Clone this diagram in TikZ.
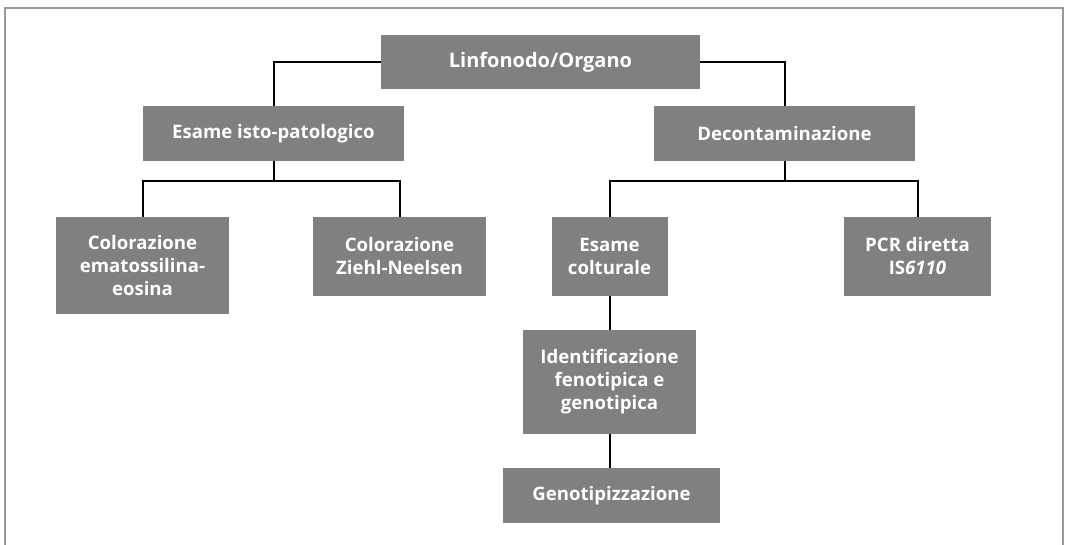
\documentclass[tikz,border=0pt]{standalone}
\usepackage{fontspec}
\setmainfont{Open Sans}[Ligatures=NoCommon]
\definecolor{boxgray}{HTML}{808083}
\definecolor{framegray}{HTML}{9A9A9A}
\begin{document}
\begin{tikzpicture}[x=1pt,y=-1pt,
  box/.style={fill=boxgray,text=white,font=\bfseries\fontsize{18.6}{23}\selectfont,
    align=center,inner sep=0pt,minimum width=#1},
  link/.style={line width=2pt,black}]
\useasboundingbox (0,0) rectangle (1066,545);
% open frame (no bottom edge)
\draw[framegray,line width=2pt] (5,545) -- (5,8) -- (1063,8) -- (1063,545);

\node[box=319pt,minimum height=54pt,font=\bfseries\fontsize{20}{24}\selectfont] (top) at (540.5,62) {Linfonodo/Organo};
\node[box=261pt,minimum height=55pt] (iso) at (273.5,133.5) {Esame isto-patologico};
\node[box=261pt,minimum height=55pt] (deco) at (784.5,133.5) {Decontaminazione};
\node[box=173pt,minimum height=97pt] (emato) at (142.5,265.5) {Colorazione\\ematossilina-\\eosina};
\node[box=173pt,minimum height=79pt] (ziehl) at (399.5,256.5) {Colorazione\\Ziehl-Neelsen};
\node[box=116pt,minimum height=79pt] (coltur) at (609.5,256.5) {Esame\\colturale};
\node[box=147pt,minimum height=79pt] (pcr) at (917.5,256.5) {PCR diretta\\IS\textit{6110}};
\node[box=173pt,minimum height=104pt] (ident) at (609.5,382) {Identificazione\\fenotipica e\\genotipica};
\node[box=217pt,minimum height=55pt] (geno) at (611.5,495.5) {Genotipizzazione};

\coordinate (j1) at (273.5,181);
\coordinate (j2) at (784.5,181);

\draw[link] (top.west) -| (iso.north);
\draw[link] (top.east) -| (deco.north);
\draw[link] (iso.south) -- (j1);
\draw[link] (emato.north) |- (j1) -| (ziehl.north);
\draw[link] (deco.south) -- (j2);
\draw[link] (coltur.north) |- (j2) -| (pcr.north);
\draw[link] (coltur.south) -- (coltur.south |- ident.north);
\draw[link] (ident.south) -- (ident.south |- geno.north);
\end{tikzpicture}
\end{document}
